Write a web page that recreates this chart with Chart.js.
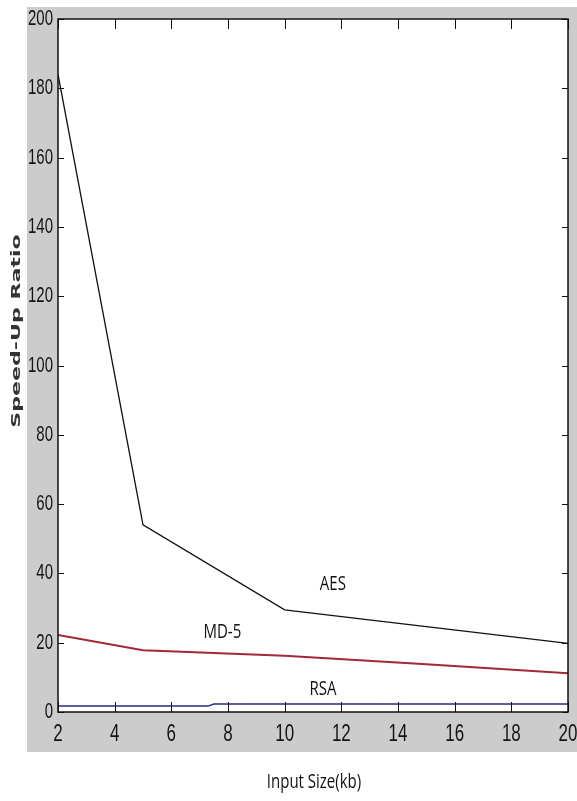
<!DOCTYPE html>
<html lang="en">
<head>
    <meta charset="UTF-8">
    <title>Speed-Up Ratio</title>
    <script src="https://cdn.jsdelivr.net/npm/chart.js"></script>
    <style>
        body {
            margin: 0;
            background: #ffffff;
        }
        #wrap {
            width: 577px;
            height: 801px;
        }
    </style>
</head>
<body>
    <div id="wrap">
        <canvas id="speedup" width="577" height="801"></canvas>
    </div>

    <script>
        // values
        const aesSizes = [2, 5, 10, 20];
        const aesRatio = [184, 54, 29.5, 19.8];

        const md5Sizes = [2, 5, 10, 15, 20];
        const md5Ratio = [22.2, 17.8, 16.2, 13.8, 11.2];

        const rsaSizes = [2, 7.3, 7.5, 20];
        const rsaRatio = [1.7, 1.7, 2.3, 2.3];

        const xTicks = [2, 4, 6, 8, 10, 12, 14, 16, 18, 20];
        const yTicks = [0, 20, 40, 60, 80, 100, 120, 140, 160, 180, 200];

        const seriesNames = ['AES', 'MD-5', 'RSA'];
        // where the series names sit, in data units
        const nameSpots = [[11.7, 36.9], [7.8, 23.1], [11.35, 6.6]];

        const toPoints = (xs, ys) => xs.map((x, i) => ({ x: x, y: ys[i] }));

        function stretchText(ctx, text, x, y, font, sy, align, baseline) {
            ctx.save();
            ctx.translate(x, y);
            ctx.scale(1, sy);
            ctx.font = font;
            ctx.textAlign = align;
            ctx.textBaseline = baseline;
            ctx.fillText(text, 0, 0);
            ctx.restore();
        }

        // matlab-like frame: grey figure, white axes, inward ticks on all sides
        const matlabFrame = {
            id: 'matlabFrame',
            beforeDraw(chart) {
                const ctx = chart.ctx;
                const a = chart.chartArea;
                ctx.save();
                ctx.fillStyle = '#ffffff';
                ctx.fillRect(0, 0, chart.width, chart.height);
                ctx.fillStyle = '#cccccc';
                ctx.fillRect(27, 7, chart.width - 27, 745);
                ctx.fillStyle = '#ffffff';
                ctx.fillRect(a.left, a.top, a.right - a.left, a.bottom - a.top);
                ctx.restore();
            },
            afterDraw(chart) {
                const ctx = chart.ctx;
                const a = chart.chartArea;
                const xs = chart.scales.x;
                const ys = chart.scales.y;
                ctx.save();
                ctx.strokeStyle = '#111111';
                ctx.lineWidth = 1;
                ctx.beginPath();
                xTicks.forEach(v => {
                    const px = Math.round(xs.getPixelForValue(v)) + 0.5;
                    ctx.moveTo(px, a.bottom); ctx.lineTo(px, a.bottom - 10);
                    ctx.moveTo(px, a.top); ctx.lineTo(px, a.top + 10);
                });
                yTicks.forEach(v => {
                    const py = Math.round(ys.getPixelForValue(v)) + 0.5;
                    ctx.moveTo(a.left, py); ctx.lineTo(a.left + 6, py);
                    ctx.moveTo(a.right, py); ctx.lineTo(a.right - 6, py);
                });
                ctx.stroke();

                ctx.lineWidth = 1.5;
                ctx.strokeRect(a.left, a.top, a.right - a.left, a.bottom - a.top);

                // tick labels
                ctx.fillStyle = '#141414';
                yTicks.forEach(v => {
                    stretchText(ctx, String(v), a.left - 5, ys.getPixelForValue(v),
                        '15px "Liberation Sans", Arial, sans-serif', 1.45, 'right', 'middle');
                });
                xTicks.forEach(v => {
                    stretchText(ctx, String(v), xs.getPixelForValue(v), a.bottom + 22,
                        '17px "Liberation Sans", Arial, sans-serif', 1.45, 'center', 'middle');
                });

                // series names
                ctx.fillStyle = '#111111';
                const nameFont = '15px "Open Sans", sans-serif';
                seriesNames.forEach((name, i) => {
                    const px = xs.getPixelForValue(nameSpots[i][0]);
                    const py = ys.getPixelForValue(nameSpots[i][1]);
                    stretchText(ctx, name, px, py, nameFont, 1.38, 'center', 'middle');
                });

                // axis titles
                stretchText(ctx, 'Input Size(kb)', 314, 782, nameFont, 1.3, 'center', 'middle');

                ctx.save();
                ctx.translate(17, 331);
                ctx.rotate(-Math.PI / 2);
                ctx.scale(1.7, 1);
                ctx.font = 'bold 13px "DejaVu Sans", Verdana, sans-serif';
                ctx.fillStyle = '#333333';
                ctx.textAlign = 'center';
                ctx.textBaseline = 'middle';
                ctx.fillText('Speed-Up Ratio', 0, 0);
                ctx.restore();

                ctx.restore();
            }
        };

        const ctx = document.getElementById('speedup').getContext('2d');
        new Chart(ctx, {
            type: 'line',
            data: {
                datasets: [
                    {
                        label: 'AES',
                        data: toPoints(aesSizes, aesRatio),
                        borderColor: '#111111',
                        borderWidth: 1.3
                    },
                    {
                        label: 'MD-5',
                        data: toPoints(md5Sizes, md5Ratio),
                        borderColor: '#a3283a',
                        borderWidth: 2
                    },
                    {
                        label: 'RSA',
                        data: toPoints(rsaSizes, rsaRatio),
                        borderColor: '#2b2f7a',
                        borderWidth: 1.5
                    }
                ]
            },
            options: {
                responsive: false,
                animation: false,
                layout: {
                    padding: { left: 0, right: 9, top: 19, bottom: 0 }
                },
                elements: {
                    point: { radius: 0 },
                    line: { tension: 0 }
                },
                plugins: {
                    legend: { display: false },
                    tooltip: { enabled: false }
                },
                scales: {
                    x: {
                        type: 'linear',
                        min: 2,
                        max: 20,
                        grid: { display: false },
                        border: { display: false },
                        ticks: { display: false },
                        afterFit: (s) => { s.height = 89; }
                    },
                    y: {
                        min: 0,
                        max: 200,
                        grid: { display: false },
                        border: { display: false },
                        ticks: { display: false },
                        afterFit: (s) => { s.width = 58; }
                    }
                }
            },
            plugins: [matlabFrame]
        });
    </script>
</body>
</html>
